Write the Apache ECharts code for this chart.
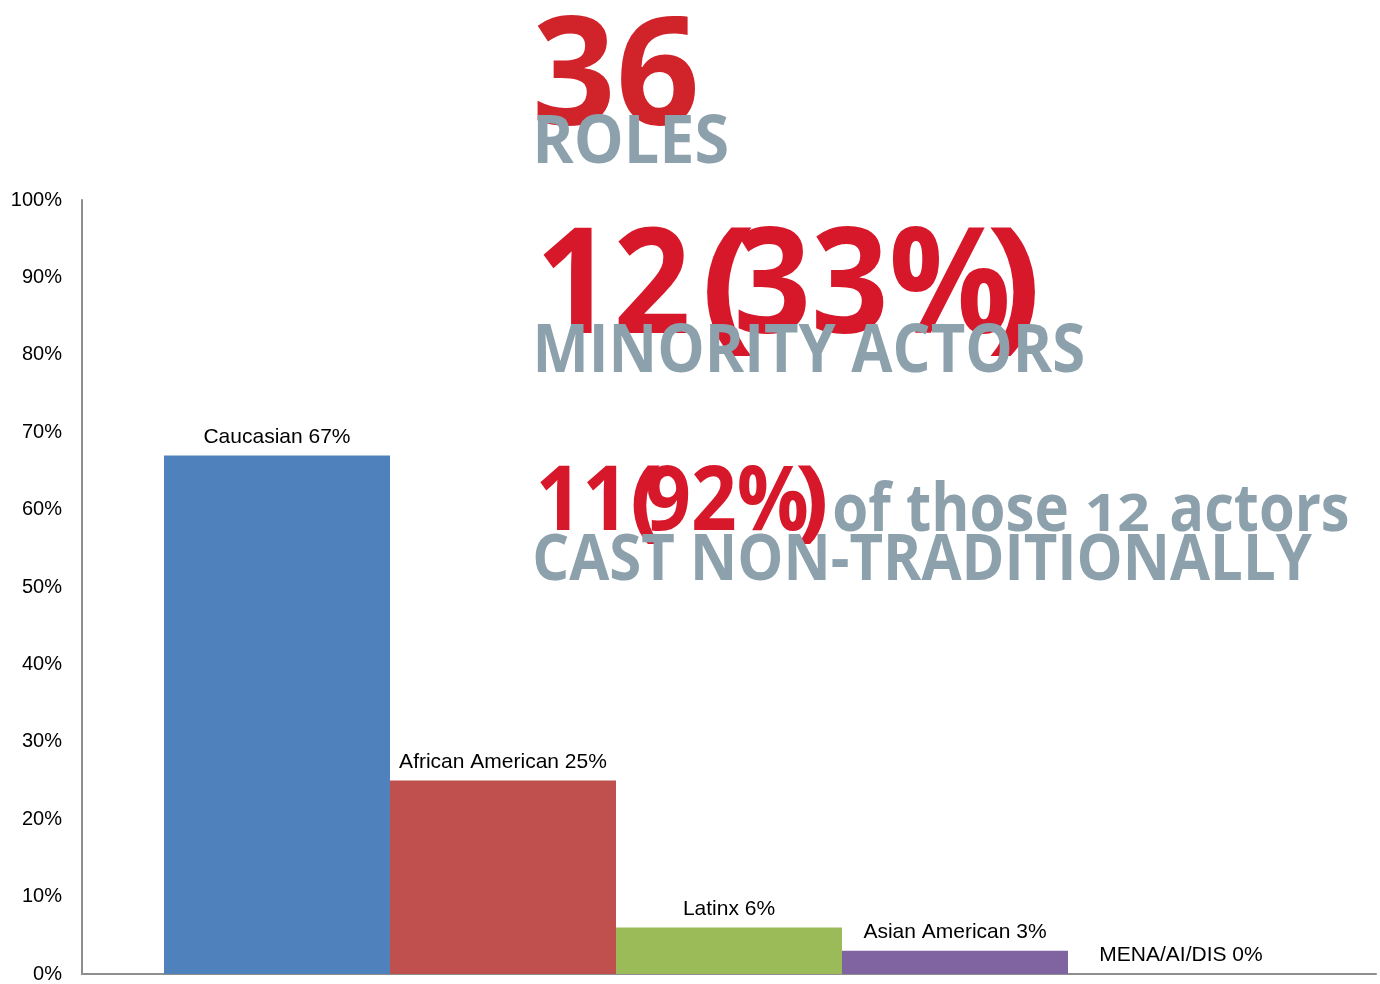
<!DOCTYPE html>
<html>
<head>
<meta charset="utf-8">
<script src="https://cdn.jsdelivr.net/npm/echarts@6/dist/echarts.min.js"></script>
<style>
  html, body { margin: 0; padding: 0; background: #fff; }
  #chart { width: 1380px; height: 984px; }
</style>
</head>
<body>
<div id="chart"></div>
<script>
// Casting breakdown by group (share of 36 roles, %)
const categories = ['Caucasian', 'African American', 'Latinx', 'Asian American', 'MENA/AI/DIS'];
const shares = [67, 25, 6, 3, 0];
const barColors = ['#4f81bd', '#c0504d', '#9bbb59', '#8064a2', '#4bacc6'];

// Headline figures
const totalRoles = '36';
const minorityCount = '12';
const minorityShare = '33%';
const nonTradCount = '11';
const nonTradShare = '92%';

const RED_A = '#d1232a';
const RED_B = '#d7182a';
const GREY = '#8da1ad';
const HEAD_FONT = "'Open Sans', 'Noto Sans', sans-serif";

const measureCtx = document.createElement('canvas').getContext('2d');

// Text piece whose ink spans [left, right] with its baseline at `baseline`
function fitText(text, left, right, baseline, size, color, z) {
  const font = 'bold ' + size + 'px ' + HEAD_FONT;
  measureCtx.font = font;
  measureCtx.textBaseline = 'alphabetic';
  const m = measureCtx.measureText(text);
  const ink = m.actualBoundingBoxLeft + m.actualBoundingBoxRight;
  const sx = (right - left) / ink;
  measureCtx.textBaseline = 'middle';
  const mm = measureCtx.measureText('H');
  measureCtx.textBaseline = 'alphabetic';
  const ma = measureCtx.measureText('H');
  const off = mm.actualBoundingBoxDescent - ma.actualBoundingBoxDescent;
  return {
    type: 'text',
    x: left + m.actualBoundingBoxLeft * sx,
    y: baseline - off,
    scaleX: sx,
    scaleY: 1,
    originX: 0,
    originY: 0,
    z: z || 10,
    silent: true,
    style: {
      text: text,
      x: 0,
      y: 0,
      font: font,
      fill: color,
      align: 'left',
      verticalAlign: 'middle'
    }
  };
}

const headline = [
  fitText(totalRoles, 537, 695, 125, 150, RED_A, 10),
  fitText('ROLES', 537, 727, 163, 66, GREY, 11),

  fitText(minorityCount, 543, 687, 333, 147, RED_B, 10),
  fitText('(', 706, 752, 333, 147, RED_B, 10),
  fitText(minorityShare, 738, 1007, 333, 147, RED_B, 10),
  fitText(')', 990, 1035, 333, 147, RED_B, 10),
  fitText('MINORITY ACTORS', 537, 1083, 372, 66, GREY, 11),

  fitText(nonTradCount, 540, 617, 530, 90, RED_B, 10),
  fitText('(', 633, 660, 530, 90, RED_B, 10),
  fitText(nonTradShare, 647, 807, 530, 90, RED_B, 10),
  fitText(')', 797, 825, 530, 90, RED_B, 10),
  fitText('of those', 834, 1067, 531, 66, GREY, 11),
  fitText(minorityCount, 1088, 1149, 531, 52, GREY, 11),
  fitText('actors', 1171, 1348, 531, 66, GREY, 11),
  fitText('CAST NON-TRADITIONALLY', 535, 1312, 580, 64, GREY, 11)
];

const chart = echarts.init(document.getElementById('chart'), null, { renderer: 'canvas' });

const axisGrey = '#8e8e8e';
const fontFamily = 'Arial, "Liberation Sans", sans-serif';

chart.setOption({
  animation: false,
  backgroundColor: '#fff',
  grid: { left: 82, right: 4, top: 200, bottom: 8, containLabel: false },
  xAxis: {
    type: 'category',
    data: [''],
    axisLine: { show: true, lineStyle: { color: axisGrey, width: 2 } },
    axisTick: { show: false },
    axisLabel: { show: false },
    splitLine: { show: false }
  },
  yAxis: {
    type: 'value',
    min: 0,
    max: 100,
    interval: 10,
    axisLine: { show: true, lineStyle: { color: axisGrey, width: 2 } },
    axisTick: { show: false },
    splitLine: { show: false },
    axisLabel: { formatter: '{value}%', margin: 20, fontFamily: fontFamily, fontSize: 20, color: '#000' }
  },
  series: categories.map((name, i) => ({
    type: 'bar',
    name: name,
    data: [shares[i]],
    barWidth: 226,
    barGap: '0%',
    itemStyle: { color: barColors[i] },
    label: {
      show: true,
      position: 'top',
      distance: 8,
      fontFamily: fontFamily,
      fontSize: 21,
      color: '#000',
      formatter: p => name + ' ' + p.value + '%'
    }
  })),
  graphic: headline
});
</script>
</body>
</html>
